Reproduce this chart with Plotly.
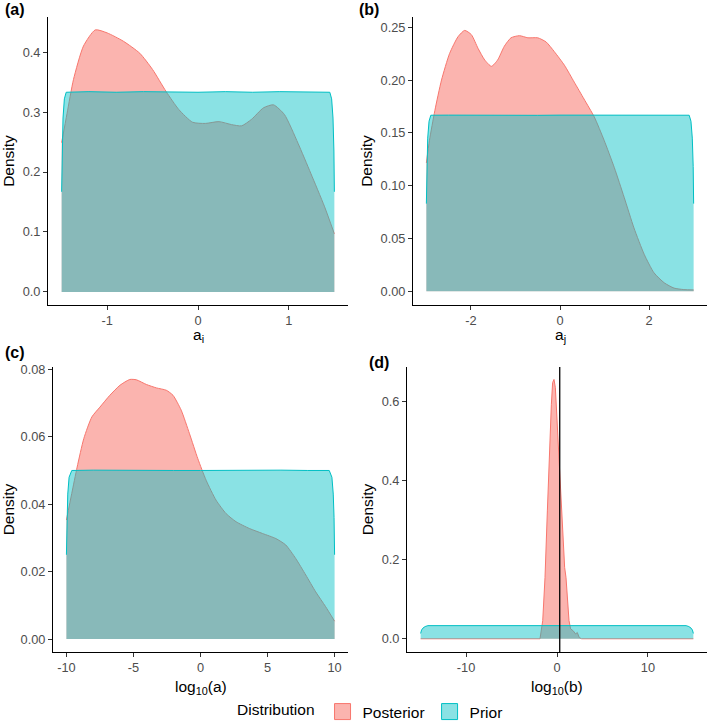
import plotly.graph_objects as go

# ---------------- data ----------------
# Panel (a): a_i
post_a_x = [-1.5, -1.44, -1.37, -1.26, -1.13, -1.0, -0.82, -0.64, -0.50, -0.35, -0.21, -0.06,
            0.08, 0.23, 0.37, 0.48, 0.59, 0.72, 0.83, 0.95, 1.10, 1.24, 1.39, 1.5]
post_a_y = [0.249, 0.298, 0.354, 0.410, 0.437, 0.432, 0.418, 0.398, 0.371, 0.334, 0.304, 0.283,
            0.281, 0.284, 0.279, 0.277, 0.288, 0.307, 0.312, 0.296, 0.248, 0.198, 0.143, 0.097]
prior_a_x = [-1.5, -1.495, -1.485, -1.47, -1.45, -1.2, -0.9, -0.6, -0.3, 0.0, 0.3, 0.6, 0.9, 1.2,
             1.45, 1.47, 1.485, 1.495, 1.5]
prior_a_y = [0.167, 0.235, 0.29, 0.322, 0.333, 0.334, 0.333, 0.334, 0.333, 0.333, 0.334, 0.333,
             0.334, 0.333, 0.333, 0.322, 0.29, 0.235, 0.167]

# Panel (b): a_j
post_b_x = [-3.0, -2.93, -2.81, -2.66, -2.48, -2.29, -2.14, -1.99, -1.84, -1.69, -1.54, -1.40,
            -1.25, -1.10, -0.91, -0.72, -0.50, -0.31, -0.13, 0.10, 0.32, 0.54, 0.77, 0.99, 1.22,
            1.44, 1.66, 1.89, 2.11, 2.34, 2.56, 2.78, 3.0]
post_b_y = [0.1215, 0.143, 0.171, 0.200, 0.225, 0.241, 0.247, 0.243, 0.230, 0.219, 0.213, 0.219,
            0.232, 0.240, 0.242, 0.240, 0.240, 0.236, 0.227, 0.214, 0.198, 0.182, 0.165, 0.143,
            0.117, 0.089, 0.060, 0.035, 0.0175, 0.008, 0.003, 0.0016, 0.0013]
prior_b_x = [-3.0, -2.99, -2.97, -2.94, -2.9, -2.5, -2.0, -1.5, -1.0, -0.5, 0.0, 0.5, 1.0, 1.5,
             2.0, 2.5, 2.9, 2.94, 2.97, 2.99, 3.0]
prior_b_y = [0.083, 0.118, 0.145, 0.161, 0.1667, 0.1668, 0.1666, 0.1668, 0.1667, 0.1666, 0.1668,
             0.1667, 0.1666, 0.1668, 0.1667, 0.1666, 0.1667, 0.161, 0.145, 0.118, 0.083]

# Panel (c): log10(a)
post_c_x = [-10.0, -9.6, -9.2, -8.7, -8.1, -7.5, -6.76, -6.0, -5.27, -4.78, -4.03, -3.29, -2.55,
            -2.05, -1.44, -0.82, -0.20, 0.42, 1.16, 1.91, 2.65, 3.64, 4.63, 5.62, 6.36, 7.10,
            7.85, 8.59, 9.33, 10.0]
post_c_y = [0.0353, 0.0432, 0.0510, 0.0595, 0.0659, 0.0688, 0.0723, 0.0753, 0.0770, 0.0769,
            0.0755, 0.0745, 0.0738, 0.0723, 0.0679, 0.0609, 0.0535, 0.0471, 0.0412, 0.0372,
            0.0348, 0.0328, 0.0313, 0.0298, 0.0279, 0.0239, 0.0190, 0.0140, 0.0096, 0.0053]
prior_c_x = [-10.0, -9.96, -9.9, -9.8, -9.6, -8.0, -6.0, -4.0, -2.0, 0.0, 2.0, 4.0, 6.0, 8.0,
             9.6, 9.8, 9.9, 9.96, 10.0]
prior_c_y = [0.025, 0.036, 0.043, 0.048, 0.050, 0.0501, 0.0500, 0.0501, 0.0500, 0.0500, 0.0501,
             0.0500, 0.0501, 0.0500, 0.050, 0.048, 0.043, 0.036, 0.025]

# Panel (d): log10(b)
post_d_x = [-15.0, -1.87, -1.57, -1.32, -1.06, -0.84, -0.62, -0.48, -0.33, -0.18, -0.04, 0.15,
            0.33, 0.55, 0.70, 0.84, 0.99, 1.14, 1.32, 1.50, 1.79, 2.05, 2.23, 2.45, 2.71, 15.0]
post_d_y = [0.0, 0.0, 0.046, 0.155, 0.324, 0.468, 0.594, 0.649, 0.657, 0.636, 0.569, 0.484,
            0.408, 0.299, 0.223, 0.181, 0.155, 0.105, 0.046, 0.025, 0.020, 0.012, 0.016, 0.003,
            0.0, 0.0]
prior_d_x = [-15.0, -14.9, -14.75, -14.5, -14.2, -10.0, -5.0, 0.0, 5.0, 10.0, 14.2, 14.5, 14.75,
             14.9, 15.0]
prior_d_y = [0.0135, 0.022, 0.027, 0.031, 0.0333, 0.0333, 0.0333, 0.0333, 0.0333, 0.0333,
             0.0333, 0.031, 0.027, 0.022, 0.0135]
vline_d = 0.3

# ticks
a_xticks = [-1, 0, 1]
a_yticks = [0.0, 0.1, 0.2, 0.3, 0.4]
a_ylabels = ["0.0", "0.1", "0.2", "0.3", "0.4"]
b_xticks = [-2, 0, 2]
b_yticks = [0.00, 0.05, 0.10, 0.15, 0.20, 0.25]
b_ylabels = ["0.00", "0.05", "0.10", "0.15", "0.20", "0.25"]
c_xticks = [-10, -5, 0, 5, 10]
c_yticks = [0.00, 0.02, 0.04, 0.06, 0.08]
c_ylabels = ["0.00", "0.02", "0.04", "0.06", "0.08"]
d_xticks = [-10, 0, 10]
d_yticks = [0.0, 0.2, 0.4, 0.6]
d_ylabels = ["0.0", "0.2", "0.4", "0.6"]

panel_labels = ["(a)", "(b)", "(c)", "(d)"]
x_titles = ["a<sub>i</sub>", "a<sub>j</sub>", "log<sub>10</sub>(a)", "log<sub>10</sub>(b)"]
y_title = "Density"
series_names = ["Posterior", "Prior"]
legend_title = "Distribution"

# ---------------- style ----------------
RED = "#F8766D"
TEAL = "#00BFC4"
RED_FILL = "rgba(248,118,109,0.55)"
TEAL_FILL = "rgba(0,191,196,0.46)"
FONT = "Liberation Sans, Arial, sans-serif"
W, H = 709, 722

fig = go.Figure()

panels = [
    (post_a_x, post_a_y, prior_a_x, prior_a_y, "spline"),
    (post_b_x, post_b_y, prior_b_x, prior_b_y, "spline"),
    (post_c_x, post_c_y, prior_c_x, prior_c_y, "spline"),
    (post_d_x, post_d_y, prior_d_x, prior_d_y, "linear"),
]
for i, (px, py, qx, qy, shp) in enumerate(panels):
    xa = "x" if i == 0 else f"x{i+1}"
    ya = "y" if i == 0 else f"y{i+1}"
    fig.add_trace(go.Scatter(x=px, y=py, xaxis=xa, yaxis=ya, mode="lines", fill="tozeroy",
                             fillcolor=RED_FILL, line=dict(color=RED, width=1, shape=shp, smoothing=0.6),
                             showlegend=False, hoverinfo="skip"))
    fig.add_trace(go.Scatter(x=qx, y=qy, xaxis=xa, yaxis=ya, mode="lines", fill="tozeroy",
                             fillcolor=TEAL_FILL, line=dict(color=TEAL, width=1),
                             showlegend=False, hoverinfo="skip"))

# legend entries
fig.add_trace(go.Scatter(x=[None], y=[None], mode="markers", name=series_names[0],
                         marker=dict(symbol="square", size=18, color=RED_FILL, line=dict(color=RED, width=1))))
fig.add_trace(go.Scatter(x=[None], y=[None], mode="markers", name=series_names[1],
                         marker=dict(symbol="square", size=18, color=TEAL_FILL, line=dict(color=TEAL, width=1))))

def dx(a, b):
    return [a / W, b / W]

def dy(top, bottom):
    return [1 - bottom / H, 1 - top / H]

xdoms = [dx(48, 348), dx(413, 707), dx(53, 348), dx(407, 707)]
ydoms = [dy(17, 305), dy(17, 305), dy(367, 652), dy(367, 652)]
xranges = [[-1.65, 1.65], [-3.3, 3.3], [-11, 11], [-16.5, 16.5]]
yranges = [[-0.0218, 0.4585], [-0.0130, 0.2597], [-0.00385, 0.0807], [-0.0335, 0.6885]]
xticks = [a_xticks, b_xticks, c_xticks, d_xticks]
yticks = [a_yticks, b_yticks, c_yticks, d_yticks]
ylabels = [a_ylabels, b_ylabels, c_ylabels, d_ylabels]
xtitle_y = [335, 335, 687, 687]

axis_common = dict(showline=True, linecolor="black", linewidth=1, ticks="outside", ticklen=4,
                   tickcolor="#333333", tickwidth=1, showgrid=False, zeroline=False,
                   automargin=False,
                   tickfont=dict(family=FONT, size=12.8, color="#4D4D4D"))

layout_axes = {}
for i in range(4):
    sx = "xaxis" if i == 0 else f"xaxis{i+1}"
    sy = "yaxis" if i == 0 else f"yaxis{i+1}"
    yname = "y" if i == 0 else f"y{i+1}"
    xname = "x" if i == 0 else f"x{i+1}"
    layout_axes[sx] = dict(domain=xdoms[i], range=xranges[i], anchor=yname, tickvals=xticks[i],
                           ticktext=[str(v) for v in xticks[i]], **axis_common)
    layout_axes[sy] = dict(domain=ydoms[i], range=yranges[i], anchor=xname, tickvals=yticks[i],
                           ticktext=ylabels[i],
                           title=dict(text=y_title, font=dict(family=FONT, size=15.5, color="black"), standoff=4),
                           **axis_common)
    # x-axis title as annotation for exact placement
    fig.add_annotation(text=x_titles[i], xref="paper", yref="paper",
                       x=(xdoms[i][0] + xdoms[i][1]) / 2, y=1 - xtitle_y[i] / H,
                       xanchor="center", yanchor="middle", showarrow=False,
                       font=dict(family=FONT, size=15.5, color="black"))

fig.update_layout(**layout_axes)

# vertical reference line in (d)
fig.add_shape(type="line", xref="x4", yref="y4 domain", x0=vline_d, x1=vline_d, y0=0, y1=1,
              line=dict(color="black", width=1.3))

# panel labels
label_pos = [(3, 10), (357, 10), (3, 352), (367, 362)]
for lab, (lx, ly) in zip(panel_labels, label_pos):
    fig.add_annotation(text=f"<b>{lab}</b>", xref="paper", yref="paper", x=lx / W, y=1 - ly / H,
                       xanchor="left", yanchor="middle", showarrow=False,
                       font=dict(family=FONT, size=16, color="black"))

fig.update_layout(
    template="none",
    width=W, height=H, margin=dict(l=0, r=0, t=0, b=0, autoexpand=False),
    paper_bgcolor="white", plot_bgcolor="white",
    font=dict(family=FONT, color="black"),
    showlegend=True,
    legend=dict(orientation="h", x=(354.5 + 17) / W, xanchor="center", y=1 - 712 / H, yanchor="middle",
                title=dict(text=legend_title, font=dict(family=FONT, size=15.5, color="black")),
                font=dict(family=FONT, size=15.5, color="black"), itemsizing="trace",
                bgcolor="rgba(0,0,0,0)"),
)

fig.write_html("out.html", config={"displayModeBar": False},
               post_script="document.body.style.margin='0';document.body.style.overflow='hidden';")
